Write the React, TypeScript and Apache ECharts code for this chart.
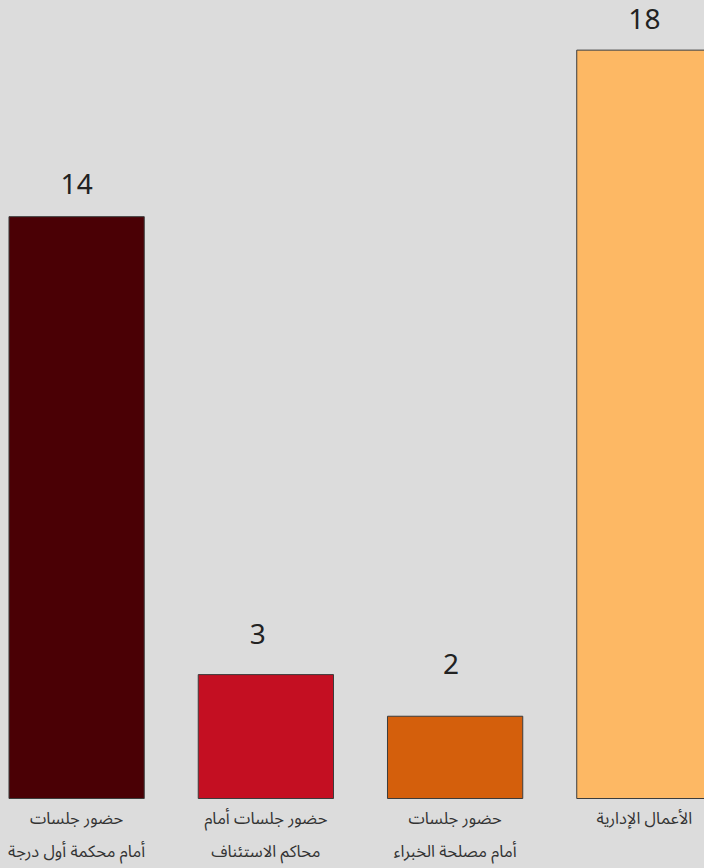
import React, { useEffect, useRef } from "react";
import * as echarts from "echarts";

const categories = [
  "حضور جلسات\nأمام محكمة أول درجة",
  "حضور جلسات أمام\nمحاكم الاستئناف",
  "حضور جلسات\nأمام مصلحة الخبراء",
  "الأعمال الإدارية",
];
const values = [14, 3, 2, 18];
const colors = ["#4a0005", "#c40f22", "#d45f0c", "#fdb864"];
const labelDistances = [19.5, 27.5, 38.5, 18];
const labelShiftX = [0, -8, -4, 0];

export default function App() {
  const ref = useRef<HTMLDivElement>(null);
  useEffect(() => {
    document.body.style.margin = "0";
    const chart = echarts.init(ref.current!, null, { renderer: "svg" });
    chart.setOption({
      animation: false,
      backgroundColor: "#dcdcdc",
      grid: { left: 0, right: 0, top: 8, bottom: 69, containLabel: false },
      xAxis: {
        type: "category",
        data: categories,
        axisLine: { show: false },
        axisTick: { show: false },
        axisLabel: {
          interval: 0,
          margin: 3,
          fontSize: 16.5,
          lineHeight: 33,
          color: "#333",
          fontFamily: "'Noto Sans Arabic', 'DejaVu Sans', sans-serif",
        },
      },
      yAxis: {
        type: "value",
        min: 0,
        max: 19,
        show: false,
        splitLine: { show: false },
      },
      series: [
        {
          type: "bar",
          barCategoryGap: "28%",
          data: values.map((v, i) => ({
            value: v,
            itemStyle: { color: colors[i] },
            label: { distance: labelDistances[i], offset: [labelShiftX[i], 0] },
          })),
          itemStyle: { borderColor: "#3c3c3c", borderWidth: 1 },
          label: {
            show: true,
            position: "top",
            fontSize: 28,
            color: "#222",
            fontFamily: "'Noto Sans', sans-serif",
          },
        },
      ],
    });
    return () => chart.dispose();
  }, []);
  return (
    <div
      style={{
        position: "relative",
        width: 704,
        height: 868,
        overflow: "hidden",
        background: "#dcdcdc",
      }}
    >
      <div
        ref={ref}
        style={{ position: "absolute", left: -18, top: 0, width: 757, height: 868 }}
      />
    </div>
  );
}
